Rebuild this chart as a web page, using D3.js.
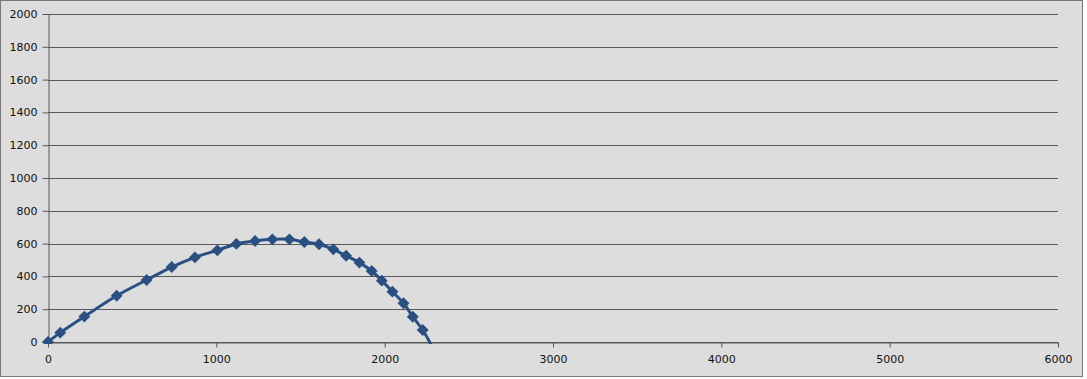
<!DOCTYPE html>
<html>
<head>
<meta charset="utf-8">
<script src="https://cdn.jsdelivr.net/npm/d3@7"></script>
<style>
  body { margin: 0; background: #fff; }
</style>
</head>
<body>
<div id="chart"></div>
<script>
// Data (distance vs height)
var xValues = [0, 73, 216, 408, 586, 735, 873, 1006, 1119, 1230, 1333, 1434, 1523, 1610, 1695, 1771, 1850, 1923, 1983, 2046, 2112, 2167, 2226, 2280]
var yValues = [0, 57, 155, 282, 378, 457, 516, 559, 598, 616, 626, 626, 610, 596, 565, 526, 484, 433, 374, 307, 236, 154, 73, -25]
var xTicks = [0, 1000, 2000, 3000, 4000, 5000, 6000]
var yTicks = [0, 200, 400, 600, 800, 1000, 1200, 1400, 1600, 1800, 2000]

var points = xValues.map(function(x, i){ return {x: x, y: yValues[i]} })

var W = 1087, H = 379
var margin = {top: 14, right: 29, bottom: 37, left: 48}
var width = W - margin.left - margin.right
var height = H - margin.top - margin.bottom

var svg = d3.select('#chart').append('svg')
    .attr('width', W)
    .attr('height', H)

// Background and frame
svg.append('rect')
    .attr('x', 0.5).attr('y', 0.5)
    .attr('width', W - 5).attr('height', H - 3)
    .attr('fill', '#dddddd')
    .attr('stroke', '#7a7a7a')

var g = svg.append('g')
    .attr('transform', 'translate(' + margin.left + ',' + margin.top + ')')

var x = d3.scaleLinear().domain([0, 6000]).range([0, width])
var y = d3.scaleLinear().domain([0, 2000]).range([height, 0])

// Gridlines
g.selectAll('line.grid')
    .data(yTicks)
  .enter().append('line')
    .attr('class', 'grid')
    .attr('x1', 0)
    .attr('x2', width)
    .attr('y1', function(d){ return Math.round(y(d)) + 0.5 })
    .attr('y2', function(d){ return Math.round(y(d)) + 0.5 })
    .style('stroke', '#595959')

// Y axis
var yAxis = g.append('g')
    .attr('transform', 'translate(0.5,0)')
    .call(d3.axisLeft(y).tickValues(yTicks).tickSize(6).tickPadding(5).tickFormat(d3.format('d')))
yAxis.select('.domain').attr('stroke', '#595959')
yAxis.selectAll('.tick line').attr('stroke', '#595959')
yAxis.selectAll('text')
    .attr('font-family', 'DejaVu Sans, sans-serif')
    .attr('font-size', '11px')
    .attr('fill', '#111')

// X axis
var xAxis = g.append('g')
    .attr('transform', 'translate(0,' + (Math.round(height) + 0.5) + ')')
    .call(d3.axisBottom(x).tickValues(xTicks).tickSize(5).tickSizeOuter(0).tickPadding(8).tickFormat(d3.format('d')))
xAxis.select('.domain').attr('stroke', '#595959')
xAxis.selectAll('.tick line').attr('stroke', '#595959')
xAxis.selectAll('text')
    .attr('font-family', 'DejaVu Sans, sans-serif')
    .attr('font-size', '11px')
    .attr('fill', '#111')

// Clip curve to the plot area
svg.append('clipPath').attr('id', 'plot')
  .append('rect')
    .attr('x', -10).attr('y', -10)
    .attr('width', width + 20).attr('height', height + 12)

var series = g.append('g').attr('clip-path', 'url(#plot)')

var line = d3.line()
    .x(function(d){ return x(d.x) })
    .y(function(d){ return y(d.y) })
    .curve(d3.curveCatmullRom)

series.append('path')
    .datum(points)
    .attr('d', line)
    .attr('fill', 'none')
    .attr('stroke', '#2a4f82')
    .attr('stroke-width', 3)

// Diamond markers
series.selectAll('path.marker')
    .data(points.filter(function(d){ return d.y >= 0 }))
  .enter().append('path')
    .attr('class', 'marker')
    .attr('d', d3.symbol().type(d3.symbolDiamond2).size(90))
    .attr('transform', function(d){ return 'translate(' + x(d.x) + ',' + y(d.y) + ')' })
    .attr('fill', '#2a4f82')
</script>
</body>
</html>
